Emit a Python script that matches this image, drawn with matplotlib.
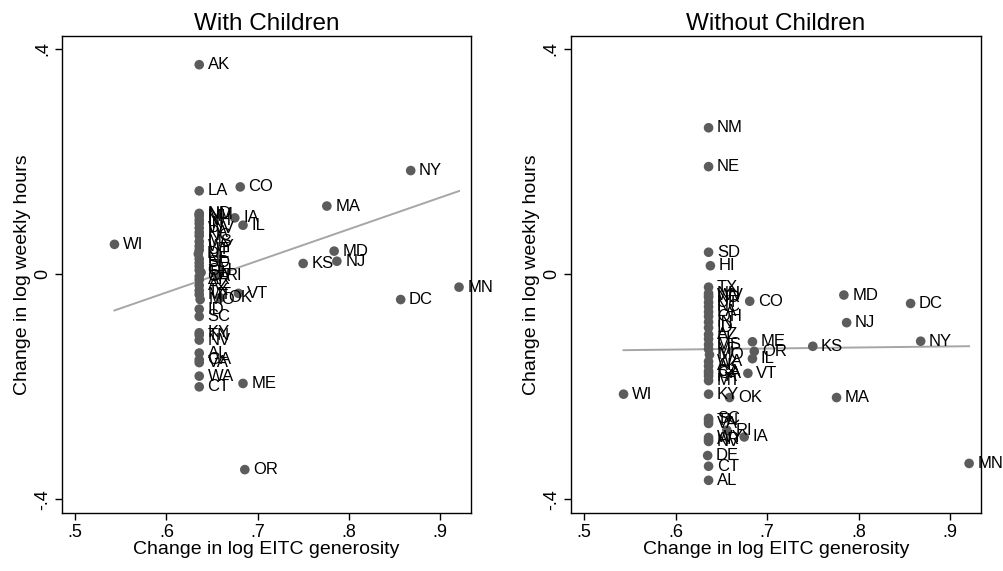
import numpy as np
import matplotlib
matplotlib.use("Agg")
import matplotlib.pyplot as plt

plt.rcParams['font.family'] = ['Liberation Sans', 'DejaVu Sans']

# state, change in log EITC generosity
states = ["AL", "AK", "AZ", "AR", "CA", "CT", "DE", "FL", "GA", "HI",
          "ID", "IN", "KY", "LA", "MI", "MS", "MT", "NE", "NV", "NH",
          "NM", "NC", "ND", "OH", "PA", "SC", "SD", "TN", "TX", "UT",
          "VA", "WA", "WV", "WY", "MO",
          "CO", "DC", "IL", "IA", "KS", "ME", "MD", "MA", "MN", "NJ",
          "NY", "OK", "OR", "RI", "VT", "WI"]
eitc = [0.636, 0.636, 0.636, 0.636, 0.636, 0.636, 0.635, 0.636, 0.636, 0.638,
        0.636, 0.636, 0.636, 0.636, 0.636, 0.636, 0.636, 0.636, 0.636, 0.636,
        0.636, 0.636, 0.636, 0.636, 0.636, 0.636, 0.636, 0.636, 0.636, 0.636,
        0.636, 0.636, 0.636, 0.636, 0.637,
        0.681, 0.857, 0.684, 0.675, 0.750, 0.684, 0.784, 0.776, 0.921, 0.787,
        0.868, 0.659, 0.686, 0.656, 0.679, 0.543]

# change in log weekly hours, with children
hours_with = [-0.140, 0.372, -0.020, -0.010, -0.004, -0.200, 0.036, 0.014, -0.152, 0.003,
              -0.062, 0.090, -0.104, 0.148, 0.103, 0.058, -0.036, 0.027, -0.117, 0.096,
              0.106, 0.068, 0.108, 0.007, 0.074, -0.075, 0.020, -0.108, -0.029, 0.043,
              -0.157, -0.181, 0.082, 0.050, -0.045,
              0.155, -0.045, 0.087, 0.100, 0.019, -0.194, 0.041, 0.121, -0.023, 0.023,
              0.184, -0.042, -0.347, -0.002, -0.034, 0.053]

# change in log weekly hours, without children
hours_without = [-0.366, -0.163, -0.107, -0.294, -0.172, -0.341, -0.322, -0.115, -0.176, 0.015,
                 -0.095, -0.085, -0.213, -0.067, -0.133, -0.125, -0.189, 0.191, -0.297, -0.034,
                 0.260, -0.058, -0.041, -0.075, -0.181, -0.256, 0.039, -0.260, -0.023, -0.050,
                 -0.265, -0.155, -0.038, -0.290, -0.143,
                 -0.048, -0.052, -0.150, -0.289, -0.128, -0.120, -0.037, -0.219, -0.336, -0.086,
                 -0.119, -0.219, -0.137, -0.277, -0.176, -0.213]

# fitted lines (intercept, slope)
fit_with = (-0.369, 0.561)
fit_without = (-0.145, 0.0186)

panels = [("With Children", hours_with, fit_with),
          ("Without Children", hours_without, fit_without)]

fig = plt.figure(figsize=(10.04, 5.71), dpi=100)
positions = [[0.0618, 0.1016, 0.4072, 0.8354], [0.5687, 0.1016, 0.4084, 0.8354]]

x = np.array(eitc)
for pos, (title, hours, fit) in zip(positions, panels):
    ax = fig.add_axes(pos)
    y = np.array(hours)
    ax.scatter(x, y, s=48, color="#5c5c5c", edgecolors="none", zorder=3)
    for s, xi, yi in zip(states, x, y):
        ax.annotate(s, (xi, yi), xytext=(6, 0), textcoords="offset points",
                    va="center", ha="left", fontsize=12, color="black", zorder=4)
    a, b = fit
    xs = np.array([x.min(), x.max()])
    ax.plot(xs, a + b * xs, color="#a6a6a6", lw=1.4, zorder=2)

    ax.set_xlim(0.4855, 0.934)
    ax.set_ylim(-0.424, 0.423)
    ax.set_xticks([0.5, 0.6, 0.7, 0.8, 0.9])
    ax.set_xticklabels([".5", ".6", ".7", ".8", ".9"])
    ax.set_yticks([-0.4, 0, 0.4])
    ax.set_yticklabels(["-.4", "0", ".4"], rotation=90, va="center")
    ax.tick_params(labelsize=13, length=5, width=1, direction="out", color="black", pad=3)
    for sp in ax.spines.values():
        sp.set_linewidth(1.0)
        sp.set_color("black")
    ax.set_title(title, fontsize=17.5, pad=4)
    ax.set_xlabel("Change in log EITC generosity", fontsize=14, labelpad=0)
    ax.set_ylabel("Change in log weekly hours", fontsize=14, labelpad=2)

fig.savefig("out.png", dpi=100)
